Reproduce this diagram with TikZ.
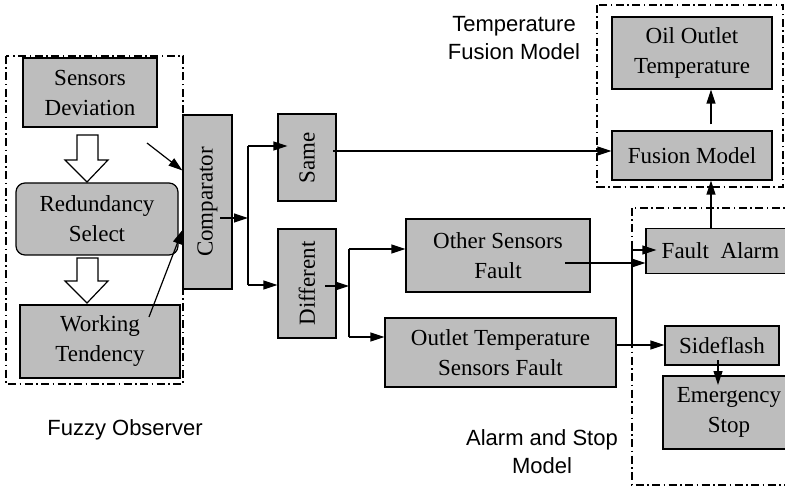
\documentclass[tikz,border=0pt]{standalone}
\usepackage{fontspec}
\setmainfont{Liberation Serif}
\newfontfamily\lblfont{Liberation Sans}
\usepackage{graphicx}
\usepackage{tikz}
\usetikzlibrary{positioning, arrows.meta, calc}
\definecolor{boxgray}{HTML}{BDBDBD}

\tikzset{
  blk/.style={fill=boxgray, draw=black, line width=1.2pt, inner sep=0pt, align=center, font=\fontsize{23}{30}\selectfont},
  grp/.style={draw=black, line width=1.2pt, dash pattern=on 8pt off 3.5pt on 1.5pt off 3.5pt},
  lbl/.style={align=center, font=\lblfont\fontsize{22}{28}\selectfont},
  arr/.style={-{Triangle[length=14pt,width=9pt]}, line width=1.2pt},
}

\begin{document}
\begin{tikzpicture}[x=1pt, y=-1pt]
  \useasboundingbox (0,0) rectangle (785,489);
  \clip (0,0) rectangle (785,489);

  % dash-dot groups
  \draw[grp] (6,56) rectangle (183,384);
  \draw[grp] (597,5) rectangle (783,187);
  \draw[grp] (632,208) rectangle (800,485);

  % fuzzy observer
  \node[blk, minimum width=134pt, minimum height=69pt] (sd) at (90,92.5) {Sensors\\Deviation};
  \node[blk, rounded corners=9pt, minimum width=162pt, minimum height=72pt] (rs) at (97,219) {Redundancy\\Select};
  \node[blk, minimum width=160pt, minimum height=73pt] (wt) at (100,341.5) {Working\\Tendency};
  \draw[line width=1.2pt, fill=white] (77,135) -- (98,135) -- (98,160) -- (108,160) -- (87,182) -- (65,160) -- (77,160) -- cycle;
  \draw[line width=1.2pt, fill=white] (77,258) -- (98,258) -- (98,281) -- (108,281) -- (87,303) -- (65,281) -- (77,281) -- cycle;

  \node[blk, minimum width=49pt, minimum height=174pt] (cmp) at (207.5,202) {\rotatebox{90}{Comparator}};
  \node[blk, minimum width=58pt, minimum height=87pt] (same) at (307,157.5) {\rotatebox{90}{Same}};
  \node[blk, minimum width=58pt, minimum height=109pt] (diff) at (307,283.5) {\rotatebox{90}{Different}};
  \node[blk, minimum width=184pt, minimum height=73pt] (osf) at (498,255.5) {Other Sensors\\Fault};
  \node[blk, minimum width=231pt, minimum height=69pt] (otsf) at (500.5,352.5) {Outlet Temperature\\Sensors Fault};

  % temperature fusion model
  \node[blk, minimum width=160pt, minimum height=72pt] (oot) at (692,53) {Oil Outlet\\Temperature};
  \node[blk, minimum width=160pt, minimum height=49pt] (fm) at (692,155.5) {Fusion Model};

  % alarm and stop model
  \node[blk, minimum width=149pt, minimum height=45pt] (fa) at (720.5,251) {Fault\ \ Alarm};
  \node[blk, minimum width=114pt, minimum height=39pt] (sf) at (722,345.5) {Sideflash};
  \node[blk, minimum width=132pt, minimum height=73pt] (es) at (729,412.5) {Emergency\\Stop};

  \node[lbl] (fuzzy) at (125,430) {Fuzzy Observer};
  \node[lbl] (tfm) at (514,38) {Temperature\\Fusion Model};
  \node[lbl] (asm) at (542,452) {Alarm and Stop\\Model};

  % connectors
  \coordinate (in1) at (147,143);
  \coordinate (wt0) at (149,317);
  \draw[arr] (in1) -- ($(cmp.north west)!0.32!(cmp.south west)$);
  \draw[arr] (wt0) -- ($(cmp.north west)!0.66!(cmp.south west)$);

  \coordinate (c0) at (220,218);
  \coordinate (cb) at (248,218);
  \coordinate (b1) at (248,146);
  \coordinate (b2) at (248,285);
  \draw[arr] (c0) -- (cb);
  \draw[line width=1.2pt] (b1) -- (b2);
  \draw[arr, shorten >=-10pt] (b1) -- (b1 -| same.west);
  \draw[arr] (b2) -- (b2 -| diff.west);

  \coordinate (d0) at (325,286);
  \coordinate (db) at (349,286);
  \coordinate (b3) at (349,249);
  \coordinate (b4) at (349,337);
  \draw[arr] (d0) -- (db);
  \draw[line width=1.2pt] (b3) -- (b4);
  \draw[arr] (b3) -- (b3 -| osf.west);
  \draw[arr] (b4) -- (b4 -| otsf.west);

  \coordinate (s0) at (333,151);
  \draw[arr] (s0) -- (s0 -| fm.west);
  \coordinate (o0) at (565,263);
  \draw[arr] (o0) -- (o0 -| fa.west);
  \coordinate (t0) at (617,345);
  \coordinate (tb) at (632,345);
  \coordinate (tu) at (632,250);
  \draw[arr] (t0) -- (t0 -| sf.west);
  \draw[arr, shorten >=-11pt] (tb) -- (tu) -- (tu -| fa.west);

  \coordinate (up) at (711,229);
  \draw[arr] (up) -- (up |- fm.south);
  \draw[arr, shorten <=6pt] (fm.north -| up) -- (oot.south -| up);
  \coordinate (f0) at (718,360);
  \coordinate (f1) at (718,385);
  \draw[arr] (f0) -- (f1);
\end{tikzpicture}
\end{document}
